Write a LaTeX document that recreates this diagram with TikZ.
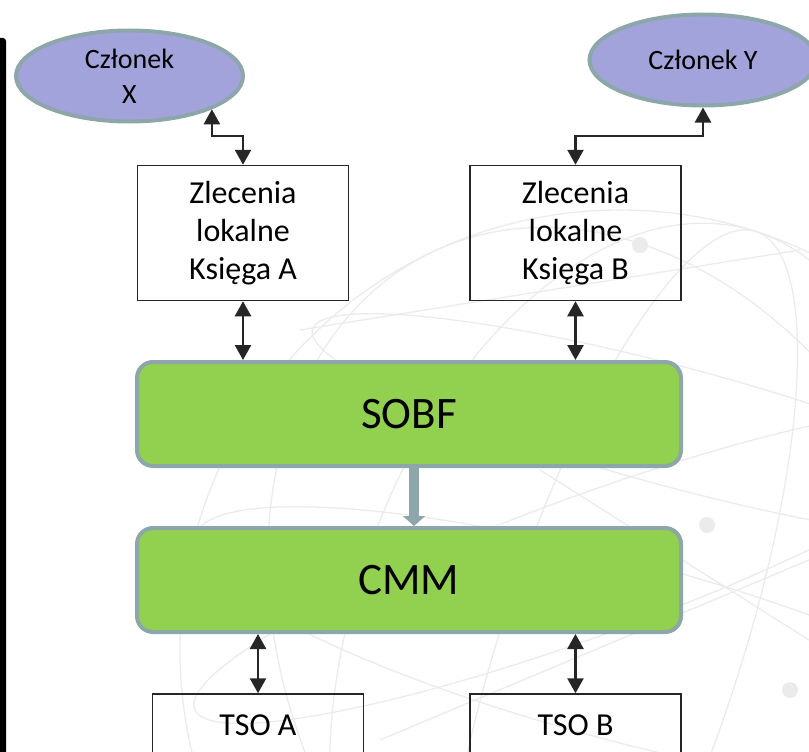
\documentclass[tikz,border=0pt]{standalone}
\usepackage{fontspec}
\setmainfont{Carlito}
\usetikzlibrary{shapes.geometric,arrows.meta}

\definecolor{lavender}{HTML}{A3A3DB}
\definecolor{rimgray}{HTML}{8DA6A9}
\definecolor{sgreen}{HTML}{92D050}
\definecolor{ink}{HTML}{262626}

\tikzset{
  member/.style={ellipse, draw=rimgray, fill=lavender, line width=4pt,
    minimum width=227pt, minimum height=91pt, inner sep=0pt, align=center,
    font=\fontsize{28pt}{35pt}\selectfont},
  book/.style={rectangle, draw=ink, line width=1.5pt,
    minimum width=211pt, minimum height=135pt, align=center,
    font=\fontsize{32pt}{38pt}\selectfont},
  tso/.style={book, minimum height=62pt},
  engine/.style={rectangle, rounded corners=16pt, draw=rimgray, fill=sgreen,
    line width=4pt, minimum width=544pt, minimum height=104pt,
    font=\fontsize{45pt}{52pt}\selectfont},
  dbl/.style={{Triangle[length=15pt,width=16pt]}-{Triangle[length=15pt,width=16pt]},
    draw=ink, line width=2.5pt},
  feed/.style={-{Triangle[length=10pt,width=22pt]}, draw=rimgray, line width=10pt}
}

\begin{document}
\begin{tikzpicture}[x=1pt,y=-1pt]
  \useasboundingbox (0,0) rectangle (809,752);

  % globe in the background
  \begin{scope}
    \clip (0,0) rectangle (809,752);
    \begin{scope}[draw=black!8, line width=1.3pt]
      \draw (620,650) circle (440);
      \draw[rotate around={-18:(620,650)}] (620,650) ellipse (120 and 440);
      \draw[rotate around={-18:(620,650)}] (620,650) ellipse (270 and 440);
      \draw[rotate around={25:(620,650)}] (620,650) ellipse (330 and 440);
      \draw[rotate around={-15:(620,650)}] (620,650) ellipse (440 and 90);
      \draw[rotate around={-15:(620,650)}] (620,420) ellipse (380 and 60);
      \draw[rotate around={20:(620,650)}] (620,560) ellipse (420 and 70);
      \draw (300,330) -- (800,250);
      \draw (380,740) -- (809,560);
      \draw (540,470) -- (809,640);
    \end{scope}
    \fill[black!8] (640,245) circle (8) (707,525) circle (8) (790,690) circle (8);
  \end{scope}

  % left edge bar
  \fill[black, rounded corners=3pt] (-6,760) rectangle (6,38);

  \begin{scope}[every node/.style={member}]
    \node (memX) at (129.5,76) {Członek\\X};
    \node (memY) at (703,60)   {Członek Y};
  \end{scope}

  \begin{scope}[every node/.style={book}]
    \node (bookA) at (243,233)   {Zlecenia\\lokalne\\Księga A};
    \node (bookB) at (575.5,233) {Zlecenia\\lokalne\\Księga B};
  \end{scope}

  \begin{scope}[every node/.style={engine}]
    \node (sobf) at (409,414) {SOBF};
    \node (cmm)  at (409,580) {CMM};
  \end{scope}

  \begin{scope}[every node/.style={tso}]
    \node (tsoA) at (258,725)   {TSO A};
    \node (tsoB) at (575.5,725) {TSO B};
  \end{scope}

  \draw[dbl] (bookA.north) -- ++(0,-29) -| (memX.-22);
  \draw[dbl] (bookB.north) -- ++(0,-29) -| (memY.south);

  \path (bookA.south) edge[dbl] (bookA.south |- sobf.north);
  \path (bookB.south) edge[dbl] (bookB.south |- sobf.north);
  \path (sobf.south -| 414,0) edge[feed] (cmm.north -| 414,0);
  \path (cmm.south -| tsoA.north) edge[dbl] (tsoA.north);
  \path (cmm.south -| tsoB.north) edge[dbl] (tsoB.north);

\end{tikzpicture}
\end{document}
